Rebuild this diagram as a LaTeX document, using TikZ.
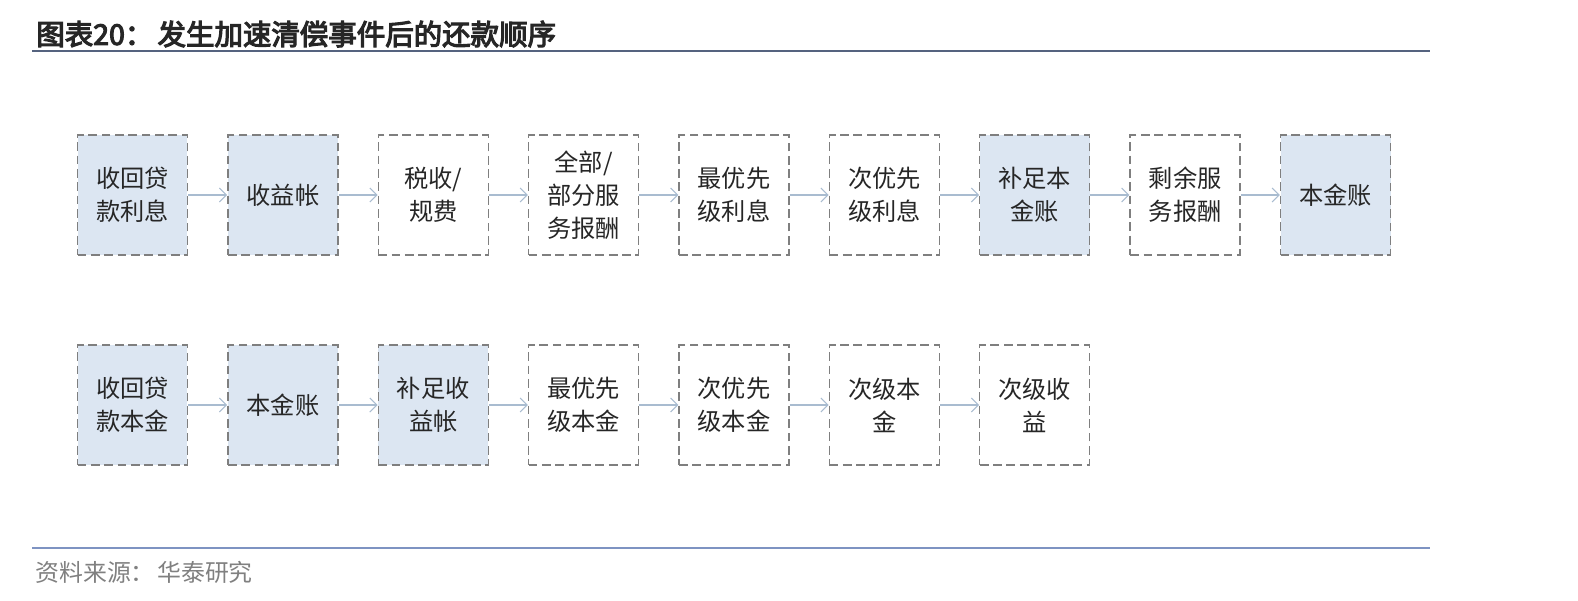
\documentclass[tikz,border=0pt]{standalone}
\usepackage{fontspec}
\newfontfamily\cjk{Noto Sans CJK SC}
\newfontfamily\cjkbold[FakeBold=4]{Noto Sans CJK SC}
\usetikzlibrary{positioning,arrows.meta}
\definecolor{acctblue}{HTML}{DCE6F2}
\definecolor{edgegray}{HTML}{7F7F7F}
\definecolor{flowgray}{HTML}{A9BCD0}
\definecolor{rulegray}{HTML}{55637F}
\definecolor{ruleblue}{HTML}{7E93C2}

\begin{document}
\begin{tikzpicture}[x=0.02cm, y=-0.02cm, node distance=0.78cm,
	paybox/.style={draw=edgegray, line width=0.8pt, dash pattern=on 5pt off 2.6pt, fill=white,
		minimum width=2.2cm, minimum height=2.4cm, inner sep=0pt, align=center,
		font=\cjk\fontsize{13.8}{18.7}\selectfont, text=black!85},
	acctbox/.style={paybox, fill=acctblue},
	flow/.style={-{Straight Barb[length=4pt,width=8pt]}, draw=flowgray, line width=0.6pt}]
		\useasboundingbox (0,0) rectangle (1578,600);
		% title and rules
		\node[anchor=west, inner sep=0pt, font=\cjkbold\fontsize{16.2}{18}\selectfont, text=black!85] (title) at (36,34) {图表20：\hspace{0.15em}发生加速清偿事件后的还款顺序};
		\draw[rulegray, line width=1.6pt] (32,51) coordinate (tl) -- (1430,51) coordinate (tr);
		\draw[ruleblue, line width=1.2pt] (32,548) coordinate (bl) -- (1430,548) coordinate (br);
		\node[anchor=west, inner sep=0pt, font=\cjk\fontsize{13.6}{16}\selectfont, text=black!50] (source) at (35,572) {资料来源：\hspace{0.1em}华泰研究};

		% interest waterfall
		\node[acctbox] (a1) at (132.5,195) {收回贷\\款利息};
		\node[acctbox, right=of a1] (a2) {收益帐};
		\node[paybox, right=of a2] (a3) {税收/\\规费};
		\node[paybox, right=of a3] (a4) {全部/\\部分服\\务报酬};
		\node[paybox, right=of a4] (a5) {最优先\\级利息};
		\node[paybox, right=of a5] (a6) {次优先\\级利息};
		\node[acctbox, right=of a6] (a7) {补足本\\金账};
		\node[paybox, right=of a7] (a8) {剩余服\\务报酬};
		\node[acctbox, right=of a8] (a9) {本金账};

		% principal waterfall
		\node[acctbox] (b1) at (132.5,405) {收回贷\\款本金};
		\node[acctbox, right=of b1] (b2) {本金账};
		\node[acctbox, right=of b2] (b3) {补足收\\益帐};
		\node[paybox, right=of b3] (b4) {最优先\\级本金};
		\node[paybox, right=of b4] (b5) {次优先\\级本金};
		\node[paybox, right=of b5] (b6) {次级本\\金};
		\node[paybox, right=of b6] (b7) {次级收\\益};

		\foreach \i [count=\j from 2] in {1,...,8}
			\draw[flow] (a\i) -- (a\j);
		\foreach \i [count=\j from 2] in {1,...,6}
			\draw[flow] (b\i) -- (b\j);
	\end{tikzpicture}
\end{document}
